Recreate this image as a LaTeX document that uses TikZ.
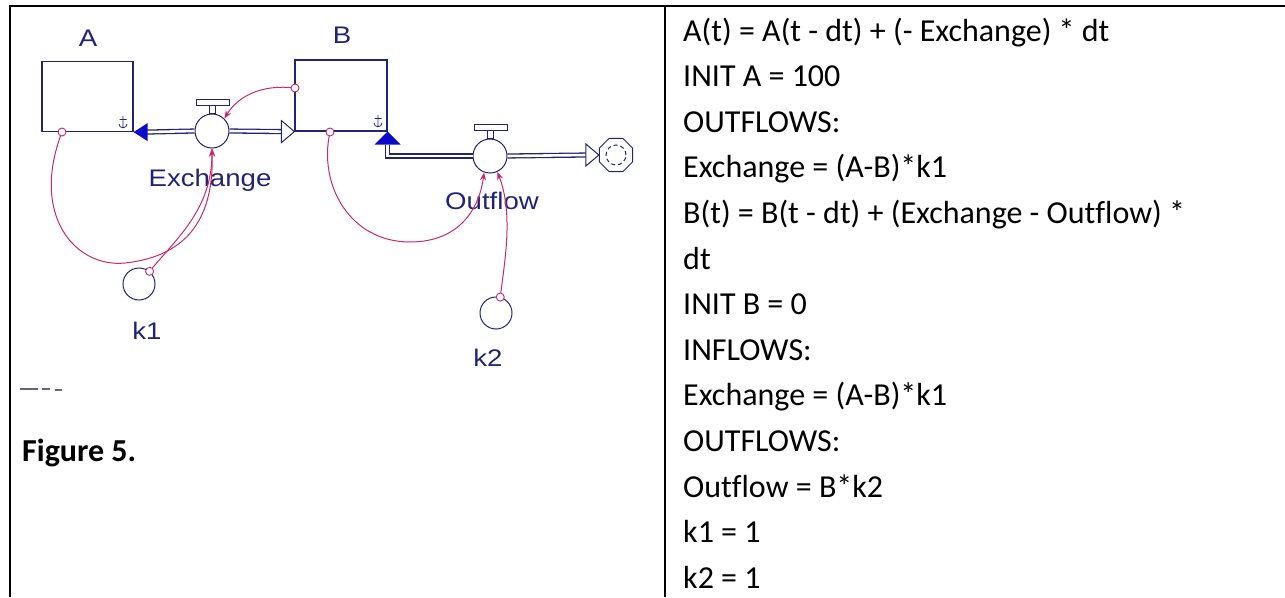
\documentclass[tikz,border=0pt]{standalone}
\usepackage{fontspec}
\setmainfont{Carlito}[Ligatures=NoCommon]
\newfontfamily\stellafont{Liberation Sans}
\usetikzlibrary{arrows.meta,shapes.geometric}
\definecolor{stnavy}{RGB}{35,35,115}
\definecolor{stblue}{RGB}{10,10,200}
\definecolor{stpink}{RGB}{200,40,110}
\tikzset{
  stock/.style={draw=stnavy, line width=1.2pt, inner sep=0pt, minimum width=91pt, minimum height=70pt},
  valve/.style={circle, draw=stnavy, fill=white, line width=1pt, minimum size=34pt, inner sep=0pt},
  conv/.style={circle, draw=stnavy, line width=1pt, minimum size=32pt, inner sep=0pt},
  pipe/.style={draw=stnavy, line width=1.3pt, double=white, double distance=2.6pt},
  link/.style={stpink, line width=1pt, -{Stealth[length=8pt,width=6pt]}},
  tap/.style={circle, draw=stpink, fill=white, line width=0.9pt, minimum size=8pt, inner sep=0pt},
  lbl/.style={font=\stellafont\fontsize{24}{24}\selectfont, text=stnavy, xscale=1.15},
  eqline/.style={anchor=base west, font=\fontsize{32}{45.6}\selectfont, inner sep=0pt},
  anchormark/.pic={\draw[stnavy, line width=0.8pt] (0,-6) -- (0,6) (-3.5,-2.5) -- (3.5,-2.5) (-4,2) .. controls (-4,7) and (4,7) .. (4,2);}
}
\begin{document}
\begin{tikzpicture}[x=1pt, y=-1pt]
\useasboundingbox (0,0) rectangle (1285,597);
% table rules
\draw[line width=2.4pt] (10,597) -- (10,6) -- (1285,6);
\draw[line width=2.4pt] (665,6) -- (665,597);

% stocks, valves, converters
\node[stock] (A) at (87.5,96.5) {};
\node[stock, minimum width=92pt, minimum height=71pt] (B) at (341,95.5) {};
\node[lbl] (labA) at (88,38) {A};
\node[lbl] (labB) at (342,35) {B};
\node[valve] (ex) at (212,131) {};
\node[valve] (out) at (490,156) {};
\node[regular polygon, regular polygon sides=8, draw=stnavy, line width=1pt, minimum size=36pt, inner sep=0pt] (sink) at (616,155) {};
\draw[stnavy, dash pattern=on 4pt off 3pt, line width=1pt] (sink.center) circle (10pt);
\node[conv] (k1) at (139,284) {};
\node[conv] (k2) at (496,313) {};
\node[lbl] (labEx) at (210,180) {Exchange};
\node[lbl] (labOut) at (492,201) {Outflow};
\node[lbl] (labK1) at (147,331) {k1};
\node[lbl] (labK2) at (488,358) {k2};
\pic at (123,122) {anchormark};
\pic at (378,121) {anchormark};

% valve handles
\foreach \v in {ex,out}
  \draw[stnavy, line width=1pt] ([xshift=-3pt]\v.north) rectangle ([xshift=3pt,yshift=8pt]\v.north)
    ([xshift=-16pt,yshift=8pt]\v.north) rectangle ([xshift=17pt,yshift=14pt]\v.north);

% flows
\coordinate (aIn) at (A.south east);
\draw[pipe] (ex.west) -- ([xshift=12pt]aIn);
\fill[stblue] (aIn) -- ++(14,-9) -- ++(0,18) -- cycle;
\draw[pipe] (ex.east) -- ([xshift=-12pt]B.south west);
\draw[stnavy, fill=white, line width=1pt] (B.south west) -- ++(-13,-11) -- ++(0,22) -- cycle;
\draw[pipe] ([yshift=-13pt]B.south east) |- (out.west);
\fill[stblue] (B.south east) -- ++(-13,13) -- ++(26,0) -- cycle;
\draw[pipe] (out.east) -- ([xshift=-12pt]sink.west);
\draw[stnavy, fill=white, line width=1pt] (sink.west) -- ++(-13,-11) -- ++(0,22) -- cycle;

% connectors
\draw[link] (295,88) .. controls (262,84) and (238,96) .. (ex.45);
\draw[link] (62,132) .. controls (30,215) and (75,268) .. (125,263) .. controls (190,256) and (214,215) .. (ex.south);
\draw[link] (k1.50) .. controls (175,240) and (212,210) .. (ex.south);
\draw[link] (330,132) .. controls (318,185) and (350,242) .. (410,242) .. controls (462,242) and (480,205) .. (out.250);
\draw[link] (k2.75) .. controls (504,265) and (514,215) .. (out.295);
\node[tap] (tA) at (62,132) {};
\node[tap] (tB1) at (295,88) {};
\node[tap] (tB2) at (330,132) {};
\node[tap] (tk1) at (k1.50) {};
\node[tap] (tk2) at (k2.75) {};

% scan remnant and caption
\draw[gray!70!stnavy, line width=2pt] (20,389) -- (38,389) (42,389) -- (50,389) (55,390) -- (62,390);
\node[anchor=base west, font=\bfseries\fontsize{32}{38}\selectfont, inner sep=0pt] (cap) at (22,461) {Figure 5.};

% equations
\foreach \ln [count=\i from 0] in {{A(t) = A(t - dt) + (- Exchange) * dt}, {INIT A = 100}, {OUTFLOWS:},
    {Exchange = (A-B)*k1}, {B(t) = B(t - dt) + (Exchange - Outflow) *}, {dt}, {INIT B = 0},
    {INFLOWS:}, {Exchange = (A-B)*k1}, {OUTFLOWS:}, {Outflow = B*k2}, {k1 = 1}, {k2 = 1}}
  \node[eqline] (eq\i) at (683,{41+45.6*\i}) {\ln};
\end{tikzpicture}
\end{document}
